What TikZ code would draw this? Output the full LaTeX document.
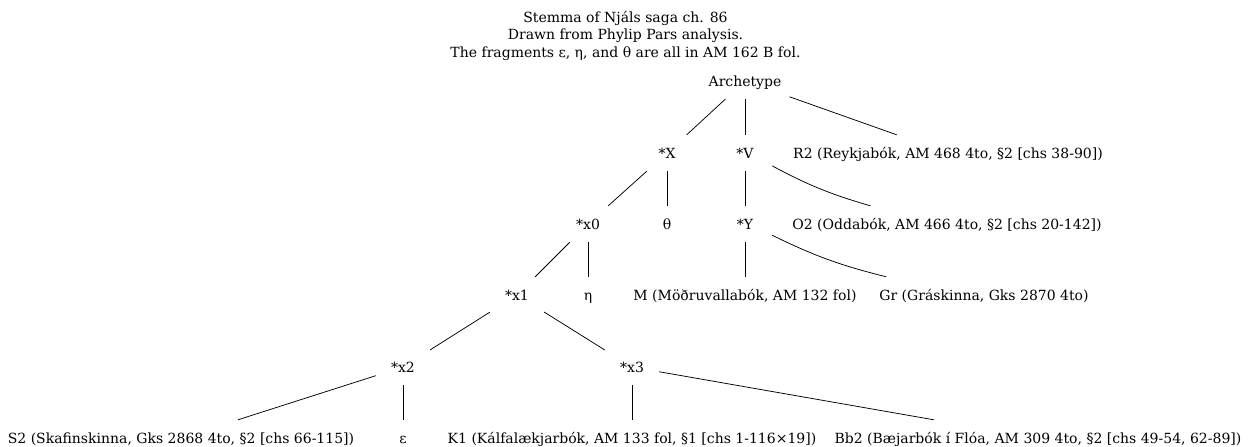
\documentclass[tikz,border=0pt]{standalone}
\usepackage{fontspec}
\setmainfont{DejaVu Serif}
\tikzset{
  wit/.style={rectangle, minimum width=54pt, minimum height=36pt, inner xsep=8pt, inner ysep=4pt, text height=12pt, text depth=1pt, font=\fontsize{14}{17}\selectfont},
  lin/.style={line width=0.75pt}
}
\begin{document}
\begin{tikzpicture}[x=1pt,y=1pt]
\useasboundingbox (0,0) rectangle (1251,-447);
\node[align=center, font=\fontsize{14}{17.5}\selectfont] (title) at (625.5,-35.5)
  {Stemma of Njáls saga ch. 86\\Drawn from Phylip Pars analysis.\\The fragments ε, η, and θ are all in AM 162 B fol.};
\node[wit] (arch) at (745,-81) {Archetype};
\node[wit] (X) at (667,-153) {*X};
\node[wit] (V) at (745,-153) {*V};
\node[wit] (R2) at (948,-153) {R2 (Reykjabók, AM 468 4to, §2 [chs 38-90])};
\node[wit] (x0) at (588,-224) {*x0};
\node[wit] (theta) at (667,-224) {θ};
\node[wit] (Y) at (745,-224) {*Y};
\node[wit] (O2) at (947,-224) {O2 (Oddabók, AM 466 4to, §2 [chs 20-142])};
\node[wit] (x1) at (517,-295) {*x1};
\node[wit] (eta) at (588,-295) {η};
\node[wit] (M) at (745,-295) {M (Möðruvallabók, AM 132 fol)};
\node[wit] (Gr) at (984,-295) {Gr (Gráskinna, Gks 2870 4to)};
\node[wit] (x2) at (403,-367) {*x2};
\node[wit] (x3) at (632,-367) {*x3};
\node[wit] (S2) at (181,-438) {S2 (Skafinskinna, Gks 2868 4to, §2 [chs 66-115])};
\node[wit] (eps) at (403,-438) {ε};
\node[wit] (K1) at (632,-438) {K1 (Kálfalækjarbók, AM 133 fol, §1 [chs 1-116×19])};
\node[wit] (Bb2) at (1038,-438) {Bb2 (Bæjarbók í Flóa, AM 309 4to, §2 [chs 49-54, 62-89])};
\draw[lin] (arch)--(X);
\draw[lin] (arch)--(V);
\draw[lin] (arch)--(R2);
\draw[lin] (X)--(x0);
\draw[lin] (X)--(theta);
\draw[lin] (V)--(Y);
\draw[lin] (V) to[bend right=6] (O2);
\draw[lin] (x0)--(x1);
\draw[lin] (x0)--(eta);
\draw[lin] (Y)--(M);
\draw[lin] (Y) to[bend right=6] (Gr);
\draw[lin] (x1)--(x2);
\draw[lin] (x1)--(x3);
\draw[lin] (x2)--(S2);
\draw[lin] (x2)--(eps);
\draw[lin] (x3)--(K1);
\draw[lin] (x3)--(Bb2);
\end{tikzpicture}
\end{document}
